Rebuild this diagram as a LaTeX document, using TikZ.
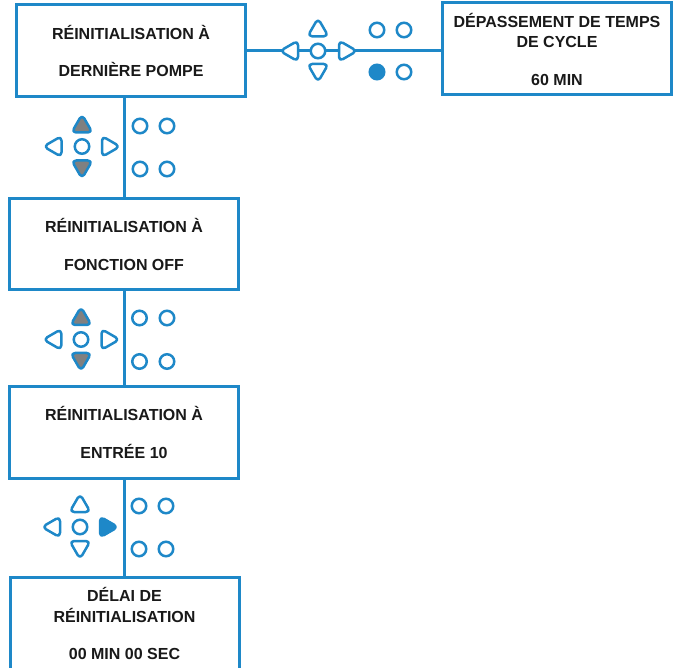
\documentclass[tikz,border=0pt]{standalone}
\usepackage{fontspec}
\setmainfont{Liberation Sans}
\usepackage{tikz}
\usetikzlibrary{shapes.geometric}
\pgfdeclarelayer{edgelayer}
\pgfdeclarelayer{nodelayer}
\pgfsetlayers{edgelayer,nodelayer,main}
\definecolor{keyblue}{RGB}{30,136,200}
\definecolor{keygrey}{RGB}{128,128,128}
\tikzstyle{menu_box}=[rectangle,draw=keyblue,line width=3pt,fill=white,minimum width=229pt,minimum height=92pt,inner sep=0pt,align=center,font=\fontsize{16}{20.5}\selectfont\bfseries,text=black!90]
\tikzstyle{key_circle}=[circle,draw=keyblue,line width=2.5pt,fill=white,minimum size=14.5pt,inner sep=0pt]
\tikzstyle{key_arrow}=[regular polygon,regular polygon sides=3,draw=keyblue,line width=2.5pt,line join=round,fill=white,minimum size=24pt,inner sep=0pt,rounded corners=4.5pt]
\tikzstyle{key_down}=[key_arrow,shape border rotate=180]
\tikzstyle{key_left}=[key_arrow,shape border rotate=90]
\tikzstyle{key_right}=[key_arrow,shape border rotate=270]
\tikzstyle{link}=[draw=keyblue,line width=3pt]

\begin{document}
\begin{tikzpicture}[x=1pt,y=-1pt]
	\useasboundingbox (0,0) rectangle (675,668);
	\begin{pgfonlayer}{nodelayer}
		\node [style={menu_box}] (0) at (131, 51) {RÉINITIALISATION À\\[17pt]DERNIÈRE POMPE};
		\node [style={menu_box}] (1) at (557, 49) {DÉPASSEMENT DE TEMPS\\DE CYCLE\\[17pt]60 MIN};
		\node [style={menu_box}, minimum height=91pt] (2) at (124, 244.5) {RÉINITIALISATION À\\[17pt]FONCTION OFF};
		\node [style={menu_box}, minimum height=91pt] (3) at (124, 432.5) {RÉINITIALISATION À\\[17pt]ENTRÉE 10};
		\node [style={menu_box}, minimum height=93pt] (4) at (124.5, 623.5) {DÉLAI DE\\RÉINITIALISATION\\[17pt]00 MIN 00 SEC};
		% top keys
		\node [style={key_arrow}] (5) at (318, 30.3) {};
		\node [style={key_down}] (6) at (318, 70) {};
		\node [style={key_left}] (7) at (292, 51) {};
		\node [style={key_right}] (8) at (345, 51) {};
		\node [style={key_circle}] (9) at (318, 51) {};
		\node [style={key_circle}] (10) at (377, 30) {};
		\node [style={key_circle}] (11) at (404, 30) {};
		\node [style={key_circle}, fill=keyblue] (12) at (377, 72) {};
		\node [style={key_circle}] (13) at (404, 72) {};
		% keys below first box
		\node [style={key_arrow}, fill=keygrey] (14) at (82, 126.5) {};
		\node [style={key_down}, fill=keygrey] (15) at (82, 166.5) {};
		\node [style={key_left}] (16) at (55.5, 146.5) {};
		\node [style={key_right}] (17) at (108, 146.5) {};
		\node [style={key_circle}] (18) at (82, 146.5) {};
		\node [style={key_circle}] (19) at (140, 126) {};
		\node [style={key_circle}] (20) at (167, 126) {};
		\node [style={key_circle}] (21) at (140, 169) {};
		\node [style={key_circle}] (22) at (167, 169) {};
		% keys below second box
		\node [style={key_arrow}, fill=keygrey] (23) at (81, 319) {};
		\node [style={key_down}, fill=keygrey] (24) at (81, 359) {};
		\node [style={key_left}] (25) at (55.3, 339.5) {};
		\node [style={key_right}] (26) at (107.5, 339.5) {};
		\node [style={key_circle}] (27) at (81, 339.5) {};
		\node [style={key_circle}] (28) at (139.5, 318) {};
		\node [style={key_circle}] (29) at (167, 318) {};
		\node [style={key_circle}] (30) at (139.5, 361.5) {};
		\node [style={key_circle}] (31) at (167, 361.5) {};
		% keys below third box
		\node [style={key_arrow}] (32) at (80, 506) {};
		\node [style={key_down}] (33) at (80, 547) {};
		\node [style={key_left}] (34) at (54, 527) {};
		\node [style={key_right}, fill=keyblue] (35) at (106, 527) {};
		\node [style={key_circle}] (36) at (80, 527) {};
		\node [style={key_circle}] (37) at (139, 506) {};
		\node [style={key_circle}] (38) at (166, 506) {};
		\node [style={key_circle}] (39) at (139, 549) {};
		\node [style={key_circle}] (40) at (166, 549) {};
	\end{pgfonlayer}
	\begin{pgfonlayer}{edgelayer}
		\draw [style=link] (0.east) to (0.east -| 1.west);
		\draw [style=link] (2.north) to (2.north |- 0.south);
		\draw [style=link] (2.south) to (3.north);
		\draw [style=link] (3.south) to (3.south |- 4.north);
	\end{pgfonlayer}
\end{tikzpicture}
\end{document}
